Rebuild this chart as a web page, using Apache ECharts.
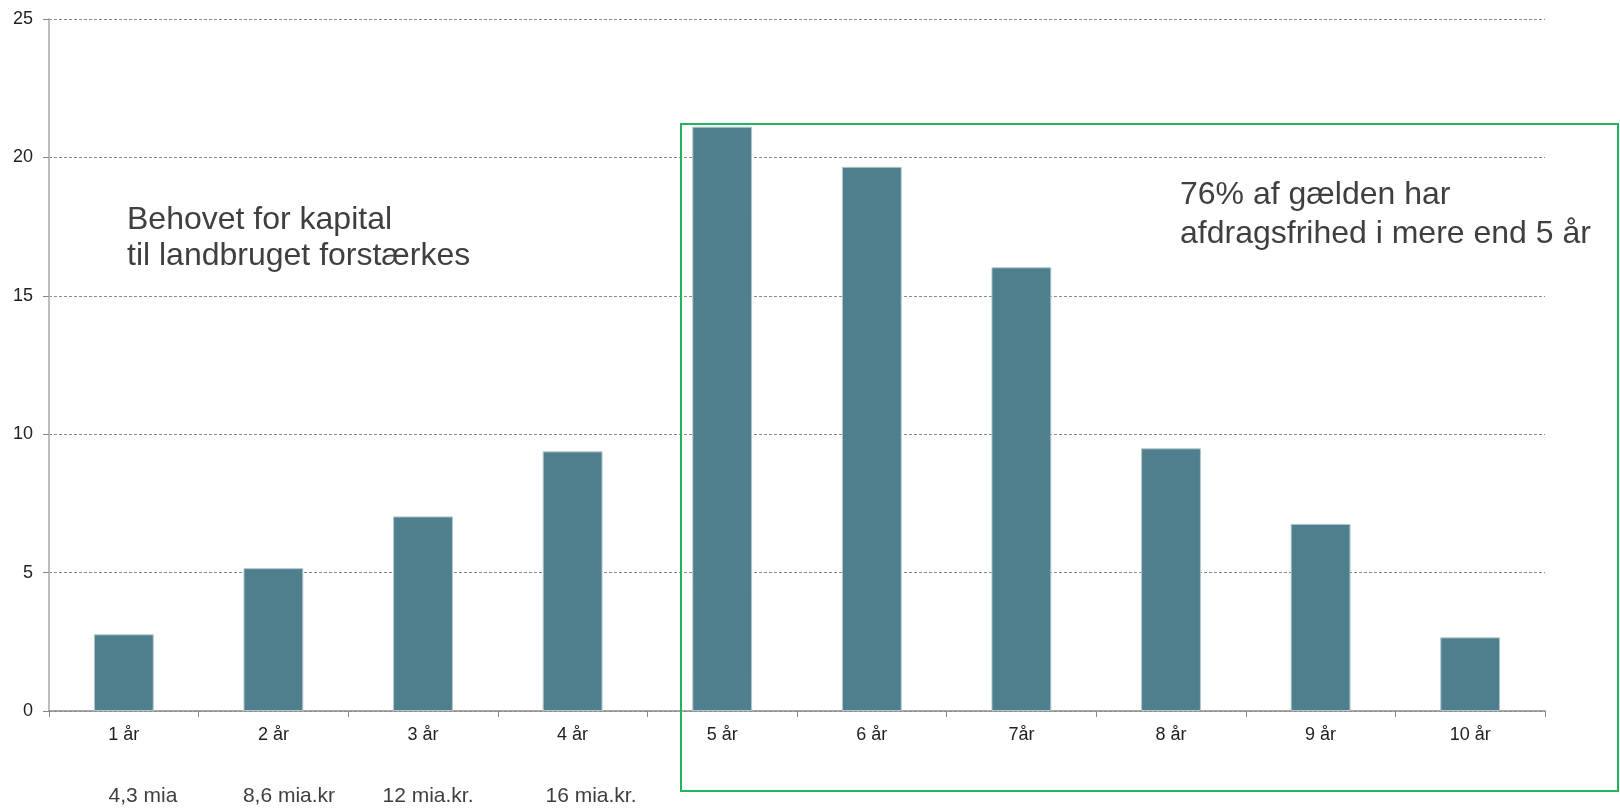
<!DOCTYPE html>
<html>
<head>
<meta charset="utf-8">
<script src="https://cdn.jsdelivr.net/npm/echarts@6/dist/echarts.min.js"></script>
<style>
html,body{margin:0;padding:0;background:#fff;}
#chart{width:1620px;height:808px;}
</style>
</head>
<body>
<div id="chart"></div>
<script>
const categories = ['1 år','2 år','3 år','4 år','5 år','6 år','7år','8 år','9 år','10 år'];
const values = [2.77, 5.16, 7.03, 9.38, 21.11, 19.66, 16.03, 9.49, 6.76, 2.66];
const yTicks = [0, 5, 10, 15, 20, 25];
const amountLabels = ['4,3 mia','8,6 mia.kr','12 mia.kr.','16 mia.kr.'];
const amountCenters = [143, 289, 428, 591];
const noteLeft = 'Behovet for kapital\ntil landbruget forstærkes';
const noteRight = '76% af gælden har\nafdragsfrihed i mere end 5 år';

const FONT = '"Liberation Sans", Arial, sans-serif';
const TEXT = '#3f3f3f';
const chart = echarts.init(document.getElementById('chart'));

const graphics = [
  {type:'rect', shape:{x:681, y:124, width:937, height:667},
   style:{fill:'none', stroke:'#22b35e', lineWidth:2}, z:10},
  {type:'text', left:127, top:202,
   style:{text:noteLeft, font:'32px ' + FONT, fill:TEXT, lineHeight:36}},
  {type:'text', left:1180, top:176,
   style:{text:noteRight, font:'32px ' + FONT, fill:TEXT, lineHeight:39}}
];
amountLabels.forEach((t,i)=>{
  graphics.push({type:'text', x:amountCenters[i], y:796,
    style:{text:t, font:'21px ' + FONT, fill:TEXT, align:'center', verticalAlign:'middle'}});
});

chart.setOption({
  animation:false,
  textStyle:{fontFamily:FONT},
  grid:{left:49, right:75, top:19, bottom:97, containLabel:false},
  xAxis:{
    type:'category', data:categories, boundaryGap:true,
    axisLine:{lineStyle:{color:'#8a8a8a', width:1.5}},
    axisTick:{show:true, length:6, alignWithLabel:false, lineStyle:{color:'#8a8a8a'}},
    axisLabel:{color:'#222', fontSize:18, margin:15, interval:0}
  },
  yAxis:{
    type:'value', min:yTicks[0], max:yTicks[yTicks.length-1], interval:yTicks[1]-yTicks[0],
    axisLine:{show:true, lineStyle:{color:'#bdbdbd', width:2}},
    axisTick:{show:true, length:6, lineStyle:{color:'#8a8a8a'}},
    axisLabel:{color:'#222', fontSize:18, margin:16},
    splitLine:{show:true, lineStyle:{color:'#8a8a8a', type:[3,2], width:1}}
  },
  series:[{
    type:'bar', data:values, barWidth:'40%',
    itemStyle:{color:'#4f7f8c', borderColor:'#b3c8cd', borderWidth:1}
  }],
  graphic:graphics
});
</script>
</body>
</html>
